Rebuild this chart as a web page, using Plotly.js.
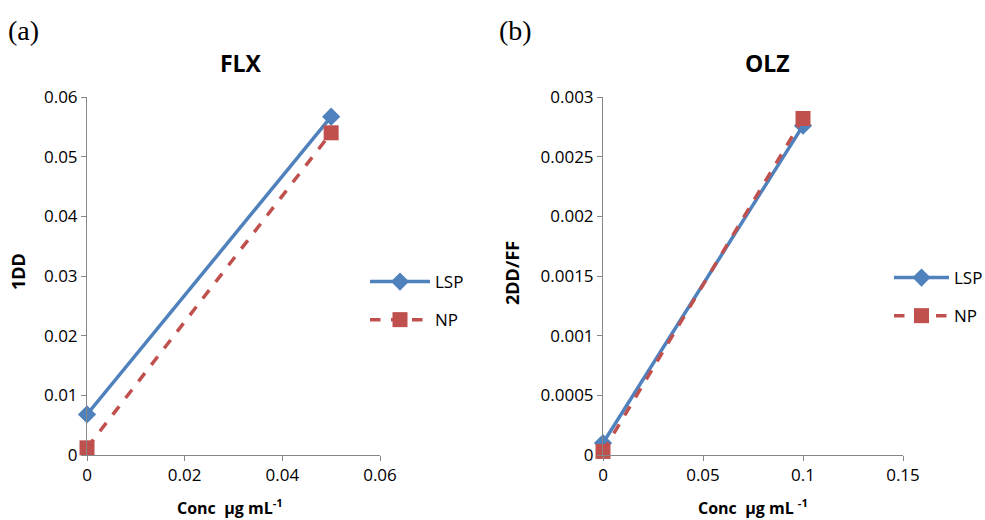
<!DOCTYPE html>
<html>
<head>
<meta charset="utf-8">
<script src="https://cdn.plot.ly/plotly-3.0.1.min.js"></script>
<style>html,body{margin:0;padding:0;background:#fff;}#chart{width:985px;height:520px;}</style>
</head>
<body>
<div id="chart"></div>
<script>
// Panel (a) FLX
const flxConc = [0, 0.05];
const flxLSP = [0.0068, 0.0567];
const flxNP = [0.0012, 0.0540];
const flxXTicks = [0, 0.02, 0.04, 0.06];
const flxXTickText = ["0", "0.02", "0.04", "0.06"];
const flxYTicks = [0, 0.01, 0.02, 0.03, 0.04, 0.05, 0.06];
const flxYTickText = ["0", "0.01", "0.02", "0.03", "0.04", "0.05", "0.06"];

// Panel (b) OLZ
const olzConc = [0, 0.1];
const olzLSP = [0.0001, 0.00276];
const olzNP = [0.00003, 0.00282];
const olzXTicks = [0, 0.05, 0.1, 0.15];
const olzXTickText = ["0", "0.05", "0.1", "0.15"];
const olzYTicks = [0, 0.0005, 0.001, 0.0015, 0.002, 0.0025, 0.003];
const olzYTickText = ["0", "0.0005", "0.001", "0.0015", "0.002", "0.0025", "0.003"];

const seriesNames = ["LSP", "NP"];

const blue = "#4F81BD", red = "#C0504D";
const fontFam = "Open Sans, Liberation Sans, sans-serif";

const traces = [
  {x: flxConc, y: flxLSP, name: seriesNames[0], mode: "lines+markers", xaxis: "x", yaxis: "y", legend: "legend", legendgroup: "a1",
   line: {color: blue, width: 3.5}, marker: {symbol: "diamond", size: 14, color: blue}, cliponaxis: false},
  {x: flxConc, y: flxNP, name: seriesNames[1], mode: "lines+markers", xaxis: "x", yaxis: "y", legend: "legend", legendgroup: "a2",
   line: {color: red, width: 3.5, dash: "dash"}, marker: {symbol: "square", size: 15, color: red}, cliponaxis: false},
  {x: olzConc, y: olzLSP, name: seriesNames[0], mode: "lines+markers", xaxis: "x2", yaxis: "y2", legend: "legend2", legendgroup: "b1",
   line: {color: blue, width: 3.5}, marker: {symbol: "diamond", size: 14, color: blue}, cliponaxis: false},
  {x: olzConc, y: olzNP, name: seriesNames[1], mode: "lines+markers", xaxis: "x2", yaxis: "y2", legend: "legend2", legendgroup: "b2",
   line: {color: red, width: 3.5, dash: "dash"}, marker: {symbol: "square", size: 15, color: red}, cliponaxis: false}
];

const axisCommon = {
  showgrid: false, zeroline: false, showline: true, linecolor: "#868686", linewidth: 1,
  ticks: "outside", ticklen: 5, tickcolor: "#868686", tickwidth: 1,
  tickfont: {family: fontFam, size: 17, color: "#000"}, fixedrange: true, automargin: false
};

const yDom = [1 - 455/520, 1 - 97/520];

const layout = {
  width: 985, height: 520,
  margin: {l: 0, r: 0, t: 0, b: 0, autoexpand: false},
  paper_bgcolor: "#fff", plot_bgcolor: "rgba(0,0,0,0)",
  font: {family: fontFam, color: "#000"},
  xaxis: Object.assign({}, axisCommon, {domain: [87/985, 380/985], range: [0, 0.06], tickvals: flxXTicks, ticktext: flxXTickText, anchor: "y"}),
  yaxis: Object.assign({}, axisCommon, {domain: yDom, range: [0, 0.06], tickvals: flxYTicks, ticktext: flxYTickText, anchor: "x"}),
  xaxis2: Object.assign({}, axisCommon, {domain: [603/985, 903/985], range: [0, 0.15], tickvals: olzXTicks, ticktext: olzXTickText, anchor: "y2"}),
  yaxis2: Object.assign({}, axisCommon, {domain: yDom, range: [0, 0.003], tickvals: olzYTicks, ticktext: olzYTickText, anchor: "x2"}),
  showlegend: true,
  legend: {x: 365/985, y: 1 - 264/520, xanchor: "left", yanchor: "top", bgcolor: "rgba(0,0,0,0)",
           font: {family: fontFam, size: 17}, itemwidth: 60, tracegroupgap: 13, traceorder: "grouped"},
  legend2: {x: 889/985, y: 1 - 260/520, xanchor: "left", yanchor: "top", bgcolor: "rgba(0,0,0,0)",
           font: {family: fontFam, size: 17}, itemwidth: 55, tracegroupgap: 13, traceorder: "grouped"},
  annotations: [
    {text: "(a)", x: 6/985, y: 1 - 30/520, xref: "paper", yref: "paper", xanchor: "left", yanchor: "middle", showarrow: false,
     font: {family: "Liberation Serif, DejaVu Serif, serif", size: 28}},
    {text: "(b)", x: 497/985, y: 1 - 30/520, xref: "paper", yref: "paper", xanchor: "left", yanchor: "middle", showarrow: false,
     font: {family: "Liberation Serif, DejaVu Serif, serif", size: 28}},
    {text: "<b>FLX</b>", x: 241/985, y: 1 - 63/520, xref: "paper", yref: "paper", xanchor: "center", yanchor: "middle", showarrow: false,
     font: {family: fontFam, size: 23}},
    {text: "<b>OLZ</b>", x: 767/985, y: 1 - 63/520, xref: "paper", yref: "paper", xanchor: "center", yanchor: "middle", showarrow: false,
     font: {family: fontFam, size: 23}},
    {text: "<b>1DD</b>", x: 18/985, y: 1 - 272/520, xref: "paper", yref: "paper", xanchor: "center", yanchor: "middle", showarrow: false, textangle: -90,
     font: {family: fontFam, size: 18}},
    {text: "<b>2DD/FF</b>", x: 512/985, y: 1 - 273/520, xref: "paper", yref: "paper", xanchor: "center", yanchor: "middle", showarrow: false, textangle: -90,
     font: {family: fontFam, size: 18}},
    {text: "<b>Conc  µg mL<sup>-1</sup></b>", x: 230/985, y: 1 - 507/520, xref: "paper", yref: "paper", xanchor: "center", yanchor: "middle", showarrow: false,
     font: {family: fontFam, size: 16}},
    {text: "<b>Conc  µg mL <sup>-1</sup></b>", x: 753/985, y: 1 - 507/520, xref: "paper", yref: "paper", xanchor: "center", yanchor: "middle", showarrow: false,
     font: {family: fontFam, size: 16}}
  ]
};

Plotly.newPlot("chart", traces, layout, {displayModeBar: false, staticPlot: true});
</script>
</body>
</html>
